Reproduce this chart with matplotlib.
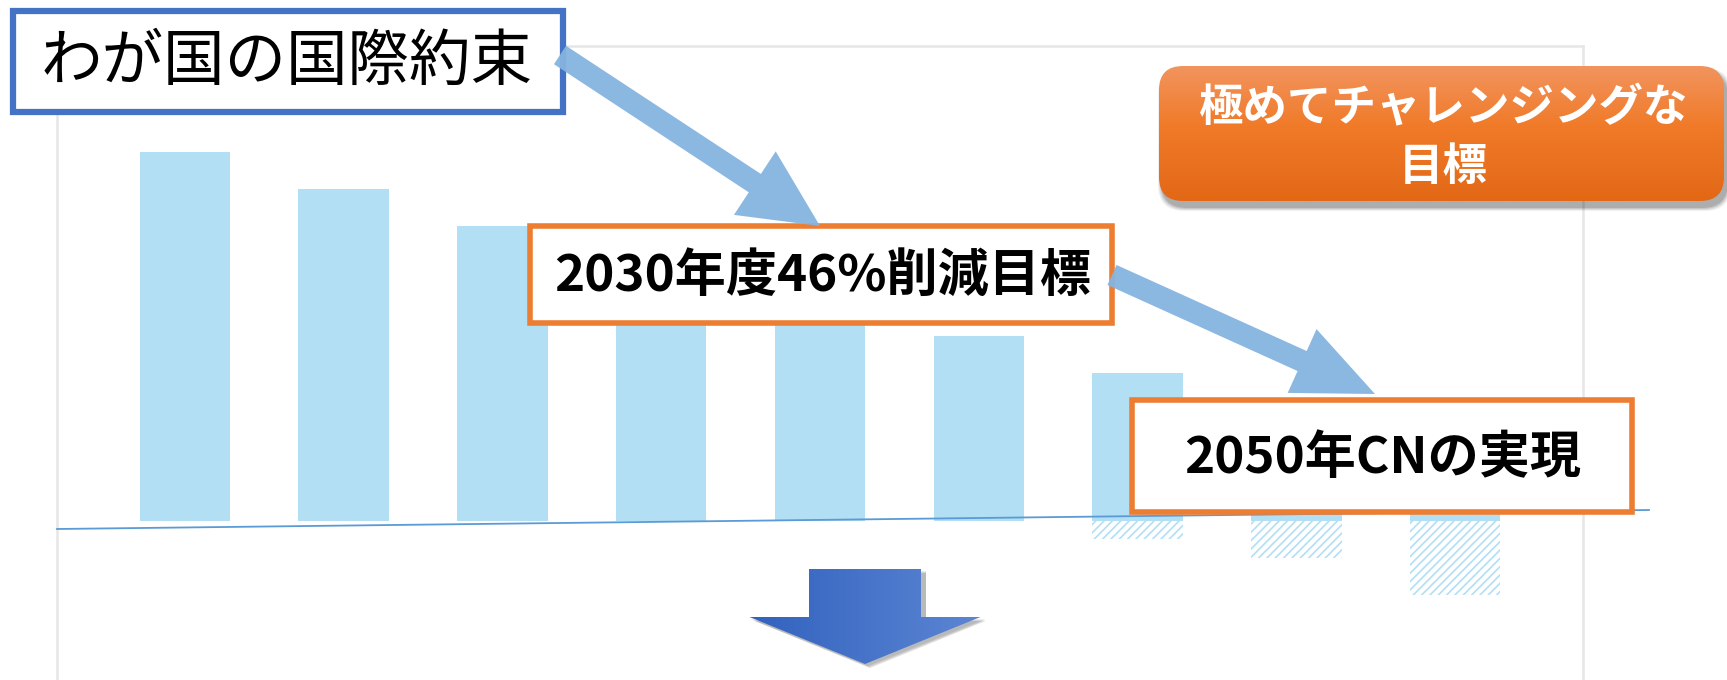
import numpy as np
import matplotlib
matplotlib.use("Agg")
import matplotlib.pyplot as plt
from matplotlib.patches import FancyArrow, FancyBboxPatch, Rectangle

plt.rcParams['font.family'] = ['Noto Sans CJK JP', 'DejaVu Sans']
plt.rcParams['hatch.linewidth'] = 1.2

# データ（最初の棒=100としたイメージ）
positions = list(range(9))
emissions = [100, 90, 80, 70, 60, 50, 40, 30, 20]
absorption = [0, 0, 0, 0, 0, 0, -5, -10, -20]

label_pledge = "わが国の国際約束"
label_2030 = "2030年度46%削減目標"
label_2050 = "2050年CNの実現"
label_challenge = ["極めてチャレンジングな", "目標"]

W, H = 1727, 680
fig = plt.figure(figsize=(W / 100, H / 100), dpi=100)


def frac(x0, y0, x1, y1):
    return [x0 / W, 1 - y1 / H, (x1 - x0) / W, (y1 - y0) / H]


# 棒グラフ
ax = fig.add_axes(frac(57, 46, 1583, 680))
ax.bar(positions, emissions, width=0.57, color="#B3DFF5", zorder=2)
ax.bar(positions, absorption, width=0.57, color="white", edgecolor="#B3DFF5",
       hatch="////", linewidth=0, zorder=2)
ax.set_xlim(-0.806, 8.806)
ax.set_ylim(-43.1, 128.7)
ax.set_xticks([])
ax.set_yticks([])
for s in ["left", "top", "right"]:
    ax.spines[s].set_color("#E6E6E6")
    ax.spines[s].set_linewidth(1.8)
ax.spines["bottom"].set_visible(False)

# 注釈レイヤー（ピクセル座標）
ov = fig.add_axes([0, 0, 1, 1])
ov.set_xlim(0, W)
ov.set_ylim(H, 0)
ov.axis("off")

ov.plot([57, 1649], [529, 510], color="#5B9BD5", lw=1.3, zorder=1)

# 左上の青枠
ov.add_patch(Rectangle((13, 11), 550, 101, facecolor="white",
                       edgecolor="#4472C4", lw=4.5, zorder=3))
ov.text(287, 63, label_pledge, fontsize=44.3, ha="center", va="center", zorder=4)

# オレンジ枠
ov.add_patch(Rectangle((530, 226), 582, 97, facecolor="white",
                       edgecolor="#ED7D31", lw=4, zorder=3))
ov.text(823, 276, label_2030, fontsize=36.8, fontweight="bold",
        ha="center", va="center", zorder=4)

ov.add_patch(Rectangle((1132, 400), 500, 112, facecolor="white",
                       edgecolor="#ED7D31", lw=4, zorder=3))
ov.text(1383, 459, label_2050, fontsize=36.8, fontweight="bold",
        ha="center", va="center", zorder=4)

# 斜めの矢印
arrow_kw = dict(length_includes_head=True, color="#85B4E0", lw=0, zorder=5, alpha=0.95)
ov.add_patch(FancyArrow(560, 55, 820 - 560, 226 - 55, width=22,
                        head_width=76, head_length=78, **arrow_kw))
ov.add_patch(FancyArrow(1112, 275, 1375 - 1112, 394 - 275, width=22,
                        head_width=70, head_length=80, **arrow_kw))

# オレンジのグラデーションボックス（影付き）
bx0, by0, bx1, by1 = 1159, 66, 1724, 201
for i, a in enumerate([0.06, 0.08, 0.10, 0.12]):
    g = 4 - i
    ov.add_patch(FancyBboxPatch((bx0 + 3 - g, by0 + 6 - g), bx1 - bx0 + 2 * g, by1 - by0 + 2 * g,
                                boxstyle="round,pad=0,rounding_size=26",
                                facecolor="black", edgecolor="none", alpha=a, zorder=5))
box = FancyBboxPatch((bx0, by0), bx1 - bx0, by1 - by0,
                     boxstyle="round,pad=0,rounding_size=24",
                     facecolor="none", edgecolor="none", zorder=6)
ov.add_patch(box)
top = np.array([242, 148, 94]) / 255
mid = np.array([240, 122, 40]) / 255
bot = np.array([226, 104, 22]) / 255
t = np.linspace(0, 1, 100)[:, None]
grad = np.where(t < 0.45, top + (mid - top) * (t / 0.45), mid + (bot - mid) * ((t - 0.45) / 0.55))
im = ov.imshow(grad[:, None, :], extent=(bx0, bx1, by1, by0), origin="upper",
               aspect="auto", zorder=6)
im.set_clip_path(box)
ov.text(1443, 108, label_challenge[0], fontsize=32, fontweight="bold", color="white",
        ha="center", va="center", zorder=7)
ov.text(1443, 167, label_challenge[1], fontsize=32, fontweight="bold", color="white",
        ha="center", va="center", zorder=7)

# 下向き矢印（グラデーション）
for i, a in enumerate([0.08, 0.10, 0.12]):
    ov.add_patch(FancyArrow(868 + i, 571 + i, 0, 95, width=112 + 2 * (2 - i),
                            head_width=231 + 2 * (2 - i), head_length=47,
                            length_includes_head=True, color="black", lw=0,
                            alpha=a, zorder=5))
down = FancyArrow(865, 569, 0, 95, width=112, head_width=231, head_length=47,
                  length_includes_head=True, facecolor="none", lw=0, zorder=6)
ov.add_patch(down)
left_c = np.array([50, 98, 190]) / 255
right_c = np.array([92, 134, 212]) / 255
s = np.linspace(0, 1, 100)[None, :, None]
hgrad = left_c + (right_c - left_c) * s
im2 = ov.imshow(hgrad, extent=(749, 981, 664, 569), origin="upper",
                aspect="auto", zorder=6)
im2.set_clip_path(down)

ov.set_xlim(0, W)
ov.set_ylim(H, 0)

fig.savefig("out.png", dpi=100)
